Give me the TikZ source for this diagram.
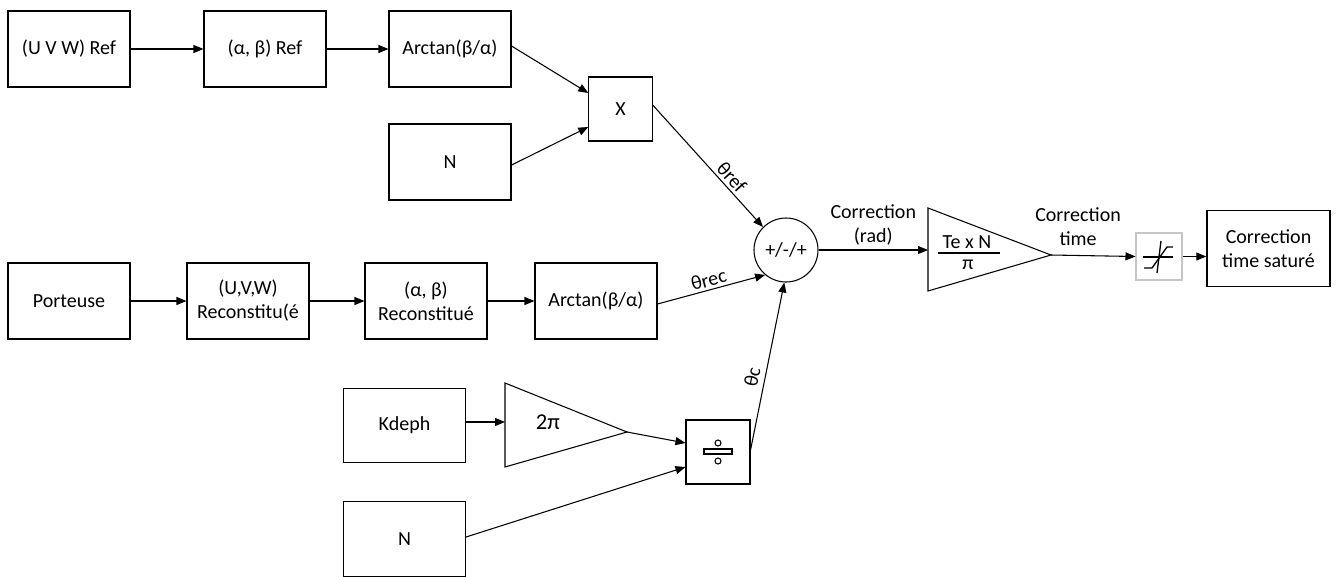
\documentclass[tikz,border=0pt]{standalone}
\usepackage{fontspec}
\setmainfont{Carlito}
\usetikzlibrary{arrows.meta,calc}
\begin{document}
\begin{tikzpicture}[x=0.75pt,y=-0.75pt,
  every node/.style={font=\fontsize{15}{18}\selectfont},
  blk/.style={draw, line width=0.8pt, minimum width=91.5pt, minimum height=57pt, inner sep=0pt, align=center},
  sq/.style={draw, line width=0.8pt, minimum width=47.5pt, minimum height=48pt, inner sep=0pt},
  arr/.style={-{Triangle[length=7.5pt,width=6pt]}, line width=0.8pt},
  shp/.style={line width=0.8pt}
]
\useasboundingbox (0,0) rectangle (1339,576);
% top row
\node[blk] (uvwref) at (69,49) {(U V W) Ref};
\node[blk] (abref) at (265,49) {(α, β) Ref};
\node[blk] (atref) at (450,49) {Arctan(β/α)};
\node[sq] (mul) at (620.5,109) {X};
\node[blk] (nref) at (450,162) {N};
\node[draw, circle, minimum size=48pt, inner sep=0pt, line width=0.8pt] (sum) at (786,250) {+/-/+};
% middle row
\node[blk] (port) at (69,301) {Porteuse};
\node[blk] (uvwrec) at (248,301) {(U,V,W)\\Reconstitu(é};
\node[blk] (abrec) at (426,301) {(α, β)\\Reconstitué};
\node[blk] (atrec) at (596,301) {Arctan(β/α)};
% bottom
\node[blk, minimum height=56pt] (kdeph) at (404.5,425.5) {Kdeph};
\draw[shp] (505,383) -- (627,432) -- (505,467) -- cycle;
\coordinate (gin) at (505,422);
\coordinate (gout) at (627,432);
\node (gtxt) at (548,422) {\fontsize{17}{20}\selectfont 2π};
\node[sq, minimum width=48pt] (div) at (718,452) {};
\draw[shp] (704,449) rectangle (732,454);
\draw[shp] (718,443) circle (3);
\draw[shp] (718,461) circle (3);
\node[blk, minimum height=56.25pt] (nbot) at (404.5,539) {N};
% gain Te x N / pi
\draw[shp] (928,208) -- (1051,255) -- (928,291) -- cycle;
\coordinate (tin) at (928,250);
\coordinate (tout) at (1051,255);
\node (tnum) at (967,242) {Te x N};
\draw[shp] (938,253) -- (1000,253);
\node (tden) at (968,265) {π};
% saturation
\node[draw=gray!45, line width=0.8pt, minimum width=34.5pt, minimum height=35.25pt, inner sep=0pt] (sat) at (1159,256.5) {};
\draw[line width=1pt] (1143,257) -- (1173,257);
\draw[line width=1pt] (1161,241) -- (1157,273);
\draw[line width=1pt] (1144,268) -- (1152,268) -- (1167,247) -- (1173,247);
\node[blk, line width=1.1pt, minimum width=92.25pt] (final) at (1268.5,248.5) {Correction\\time saturé};
% connectors
\draw[arr] (uvwref) -- (abref);
\draw[arr] (abref) -- (atref);
\draw[arr] ($(atref.east)+(0,-3)$) -- ($(mul.west)+(0,-16)$);
\draw[arr] ($(nref.east)+(0,3)$) -- ($(mul.west)+(0,18)$);
\draw[arr] ($(mul.east)+(0,-4)$) -- node[pos=0.65, above, sloped, inner sep=2pt] (lref) {θref} (sum.135);
\draw[arr] (port) -- (uvwrec);
\draw[arr] (uvwrec) -- (abrec);
\draw[arr] (abrec) -- (atrec);
\draw[arr] ($(atrec.east)+(0,3)$) -- node[midway, above, sloped, inner sep=2pt] (lrec) {θrec} (sum.-130);
\draw[arr] ($(kdeph.east)+(0,-3.5)$) -- (gin);
\draw[arr] (gout) -- ($(div.west)+(0,-9)$);
\draw[arr] ($(nbot.east)+(0,-2)$) -- ($(div.west)+(0,15)$);
\draw[arr] ($(div.east)+(0,-2)$) -- node[pos=0.42, above, sloped, inner sep=4pt] (lc) {θc} (sum.-93);
\draw[arr] (sum.east) -- node[above, align=center, inner sep=3pt] (lrad) {Correction\\(rad)} (tin);
\draw[arr] (tout) -- node[pos=0.32, above, align=center, inner sep=3pt, yshift=3.75pt] (ltime) {Correction\\time} (sat.west);
\draw[arr] (sat.east) -- (final.west |- sat.east);
\end{tikzpicture}
\end{document}
